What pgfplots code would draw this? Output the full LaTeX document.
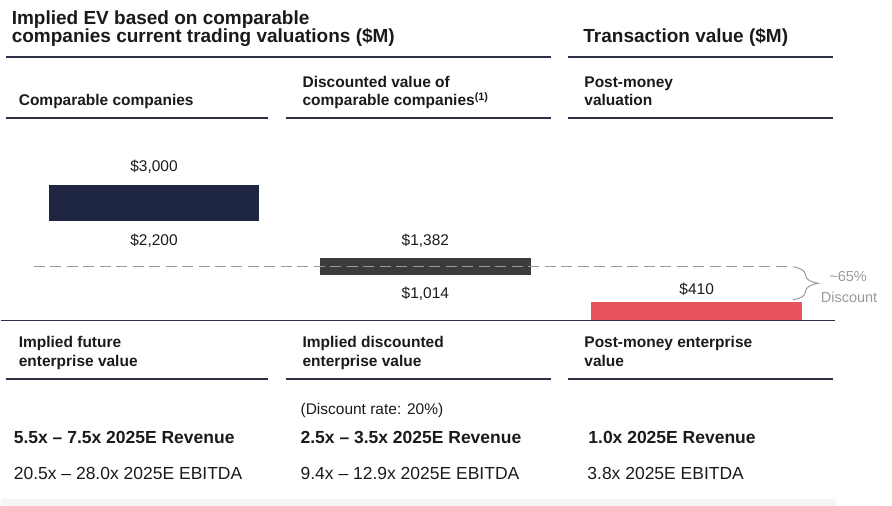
\documentclass[border=0pt]{standalone}
\usepackage{fontspec}
\setmainfont{Liberation Sans}
\usepackage{pgfplots}
\pgfplotsset{compat=1.18}
\usetikzlibrary{decorations.pathreplacing}
\definecolor{navybar}{HTML}{1F2641}
\definecolor{graybar}{HTML}{3B3B3B}
\definecolor{redbar}{HTML}{E9545C}
\definecolor{rulecol}{HTML}{2B3045}
\definecolor{txt}{HTML}{1A1A1A}
\definecolor{dashcol}{HTML}{9A9A9A}
\newcommand{\ttl}{\fontsize{19}{18}\selectfont\bfseries}
\newcommand{\hdr}{\fontsize{15.5}{18}\selectfont\bfseries}
\newcommand{\val}{\fontsize{15.5}{18}\selectfont}
\newcommand{\mult}{\fontsize{17.5}{20}\selectfont}

\begin{document}
\begin{tikzpicture}[x=1pt,y=1pt, every node/.style={inner sep=0pt, text=txt}]
\path (0,0) rectangle (892,-506);
\fill[black!4] (0,-499) rectangle (836,-506);

% section titles
\node[anchor=base west] at (11,-25) {\ttl Implied EV based on comparable};
\node[anchor=base west] at (11,-43) {\ttl companies current trading valuations (\$M)};
\node[anchor=base west] at (583,-43) {\ttl Transaction value (\$M)};
\draw[rulecol, line width=2pt] (5,-57) -- (551,-57) (568,-57) -- (833,-57);

% column headers
\node[anchor=base west] at (18,-106) {\hdr Comparable companies};
\node[anchor=base west] at (302,-88) {\hdr Discounted value of};
\node[anchor=base west] at (302,-106) {\hdr comparable companies\textsuperscript{(1)}};
\node[anchor=base west] at (584,-88) {\hdr Post-money};
\node[anchor=base west] at (584,-106) {\hdr valuation};
\draw[rulecol, line width=2pt] (5,-118) -- (268,-118) (286,-118) -- (551,-118) (568,-118) -- (833,-118);

\begin{axis}[
    at={(153.5pt,-321pt)}, anchor=origin,
    scale only axis, width=892pt, height=506pt,
    xmin=-0.56538, xmax=2.72007,
    ymin=-4081, ymax=7081,
    hide axis, clip=false,
    ybar stacked, bar width=211pt,
]
% invisible base of each floating bar
\addplot[draw=none, fill=none] coordinates {(0,2200) (1,1014) (2,0)};
\addplot[draw=none, fill=navybar] coordinates {(0,800) (1,0) (2,0)};
\addplot[draw=none, fill=graybar] coordinates {(0,0) (1,368) (2,0)};
\addplot[draw=none, fill=redbar] coordinates {(0,0) (1,0) (2,410)};

\coordinate (dashL) at (axis cs:-0.4438,1198);
\coordinate (dashR) at (axis cs:2.339,1198);

\node[anchor=base, yshift=13pt] at (axis cs:0,3000) {\val \$3,000};
\node[anchor=base, yshift=-24.7pt] at (axis cs:0,2200) {\val \$2,200};
\node[anchor=base, yshift=12.4pt] at (axis cs:1,1382) {\val \$1,382};
\node[anchor=base, yshift=-24pt] at (axis cs:1,1014) {\val \$1,014};
\node[anchor=base, yshift=7.4pt] at (axis cs:2,410) {\val \$410};
\end{axis}

% dashed reference line drawn over the bars
\draw[dashcol, line width=1.5pt, dash pattern=on 11pt off 5.5pt] (dashL) -- (dashR);

% discount brace
\draw[dashcol, line width=1pt, decorate, decoration={brace, amplitude=25pt}] (793,-267) -- (793,-300);
\node[anchor=base, text=dashcol] at (848,-282) {\fontsize{14.5}{16}\selectfont \textasciitilde65\%};
\node[anchor=base, text=dashcol] at (849,-303) {\fontsize{14.5}{16}\selectfont Discount};

\draw[rulecol, line width=1.3pt] (0,-321) -- (835,-321);

% lower headers
\node[anchor=base west] at (18,-348) {\hdr Implied future};
\node[anchor=base west] at (18,-367) {\hdr enterprise value};
\node[anchor=base west] at (302,-348) {\hdr Implied discounted};
\node[anchor=base west] at (302,-367) {\hdr enterprise value};
\node[anchor=base west] at (584,-348) {\hdr Post-money enterprise};
\node[anchor=base west] at (584,-367) {\hdr value};
\draw[rulecol, line width=2pt] (5,-379) -- (268,-379) (286,-379) -- (551,-379) (568,-379) -- (833,-379);

% multiples
\node[anchor=base west] at (300,-415) {\val (Discount rate: 20\%)};
\node[anchor=base west] at (13,-444) {\mult\bfseries 5.5x – 7.5x 2025E Revenue};
\node[anchor=base west] at (300,-444) {\mult\bfseries 2.5x – 3.5x 2025E Revenue};
\node[anchor=base west] at (588,-444) {\mult\bfseries 1.0x 2025E Revenue};
\node[anchor=base west] at (13,-480) {\mult 20.5x – 28.0x 2025E EBITDA};
\node[anchor=base west] at (300,-480) {\mult 9.4x – 12.9x 2025E EBITDA};
\node[anchor=base west] at (587,-480) {\mult 3.8x 2025E EBITDA};
\end{tikzpicture}
\end{document}
